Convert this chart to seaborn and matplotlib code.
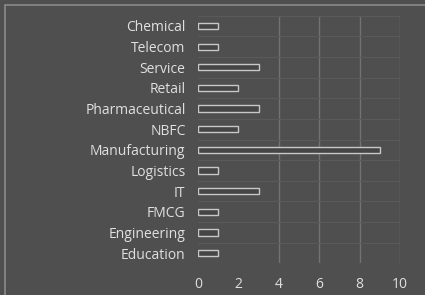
import numpy as np
import pandas as pd
import seaborn as sns
import matplotlib.pyplot as plt
from matplotlib.patches import Rectangle

industries = ["Chemical", "Telecom", "Service", "Retail", "Pharmaceutical", "NBFC",
              "Manufacturing", "Logistics", "IT", "FMCG", "Engineering", "Education"]
counts = [1, 1, 3, 2, 3, 2, 9, 1, 3, 1, 1, 1]

df = pd.DataFrame({"Industry": industries, "Count": counts})

bg = "#4f4f4f"
txt = "#e0e0e0"

sns.set_style("dark")
plt.rcParams["font.family"] = ["Open Sans", "DejaVu Sans"]

fig = plt.figure(figsize=(4.25, 2.95), dpi=100, facecolor=bg)
ax = fig.add_axes([0.466, 0.107, 0.475, 0.84])
ax.set_facecolor(bg)

sns.barplot(data=df, y="Industry", x="Count", orient="h", ax=ax,
            color="#454545", edgecolor="#c8c8c8", linewidth=1.0, width=0.3)

ax.set_xlim(0, 10)
ax.set_xticks([0, 2, 4, 6, 8, 10])
ax.set_xlabel("")
ax.set_ylabel("")
ax.tick_params(axis="both", colors=txt, labelsize=10, length=0)
ax.tick_params(axis="y", pad=9)
ax.tick_params(axis="x", pad=10)
for lab in ax.get_xticklabels() + ax.get_yticklabels():
    lab.set_color(txt)

# grid lines
for v in [4, 6, 8, 10]:
    ax.axvline(v, color="#727272", lw=1.0, zorder=0)
for y in np.arange(-0.5, len(industries), 1.0):
    ax.axhline(y, color="#5a5a5a", lw=0.8, zorder=0)
for s in ax.spines.values():
    s.set_visible(False)

fig.add_artist(Rectangle((0.012, -0.1), 1.2, 1.083, transform=fig.transFigure,
                         fill=False, edgecolor="#8a8a8a", lw=1.2))

fig.savefig("out.png", dpi=100, facecolor=bg)
